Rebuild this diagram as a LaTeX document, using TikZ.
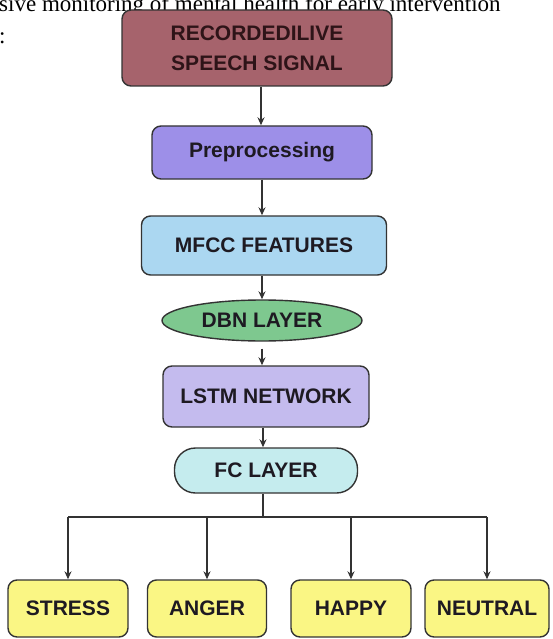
\documentclass[tikz,border=0pt]{standalone}
\usepackage{fontspec}
\setmainfont{Liberation Serif}
\newfontfamily\boxfont{Liberation Sans}
\usetikzlibrary{shapes.geometric,arrows.meta}
\definecolor{cTop}{HTML}{A6636C}
\definecolor{cPre}{HTML}{9D8FE8}
\definecolor{cMfcc}{HTML}{ABD7F1}
\definecolor{cDbn}{HTML}{7EC88F}
\definecolor{cLstm}{HTML}{C4BBEE}
\definecolor{cFc}{HTML}{C5ECEE}
\definecolor{cOut}{HTML}{FAF684}
\definecolor{cLine}{HTML}{333333}
\definecolor{cTxt}{HTML}{1E1A22}
\definecolor{cTopTxt}{HTML}{2E1418}
\tikzset{
  box/.style={draw=cLine, line width=1.4pt, rounded corners=9pt, inner sep=0pt,
    align=center, text=cTxt, font=\boxfont\bfseries\fontsize{21}{30}\selectfont},
  oval/.style={box, ellipse},
  arr/.style={draw=cLine, line width=1.3pt, -{Stealth[length=8pt,width=7pt]}},
  conn/.style={draw=cLine, line width=1.3pt},
  pagetext/.style={anchor=base west, inner sep=0pt, font=\fontsize{23}{26}\selectfont},
}
\begin{document}
\begin{tikzpicture}[x=1pt,y=-1pt]
\useasboundingbox (0,0) rectangle (552,639);
\clip (0,0) rectangle (552,639);
\node[pagetext] (cap) at (-1,12) {sive monitoring of mental health for early intervention};
\node[pagetext] (colon) at (-1,44) {:};
\node[box, fill=cTop, minimum width=270pt, minimum height=76pt, text=cTopTxt] (top) at (257,48) {RECORDEDILIVE\\SPEECH SIGNAL};
\node[box, fill=cPre, minimum width=220pt, minimum height=53pt] (pre) at (262,152.5) {Preprocessing};
\node[box, fill=cMfcc, minimum width=245pt, minimum height=59pt] (mfcc) at (264,245.5) {MFCC FEATURES};
\node[oval, fill=cDbn, minimum width=200pt, minimum height=41pt] (dbn) at (262,320.5) {DBN LAYER};
\node[box, fill=cLstm, minimum width=206pt, minimum height=61pt] (lstm) at (266,396.5) {LSTM NETWORK};
\node[box, fill=cFc, minimum width=183pt, minimum height=45pt, rounded corners=21pt] (fc) at (266,470.5) {FC LAYER};
\node[box, fill=cOut, minimum width=120pt, minimum height=57pt] (stress) at (68,608.5) {STRESS};
\node[box, fill=cOut, minimum width=119pt, minimum height=57pt] (anger) at (207,608.5) {ANGER};
\node[box, fill=cOut, minimum width=120pt, minimum height=57pt] (happy) at (351,608.5) {HAPPY};
\node[box, fill=cOut, minimum width=124pt, minimum height=57pt] (neutral) at (487,608.5) {NEUTRAL};
\coordinate (bus) at (263,517);
\draw[arr] (top.south -| 261,0) -- (pre.north -| 261,0);
\draw[arr] (pre.south -| 262,0) -- (mfcc.north -| 262,0);
\draw[arr] (mfcc.south -| 262,0) -- (dbn.north -| 262,0);
\draw[arr] ([yshift=-7pt]dbn.south -| 262,0) -- (lstm.north -| 262,0);
\draw[arr] (lstm.south -| 263,0) -- (fc.north -| 263,0);
\draw[conn] (fc.south -| bus) -- (bus);
\draw[conn] (stress.north |- bus) -- (neutral.north |- bus);
\draw[arr] (stress.north |- bus) -- (stress.north);
\draw[arr] (anger.north |- bus) -- (anger.north);
\draw[arr] (happy.north |- bus) -- (happy.north);
\draw[arr] (neutral.north |- bus) -- (neutral.north);
\end{tikzpicture}
\end{document}
